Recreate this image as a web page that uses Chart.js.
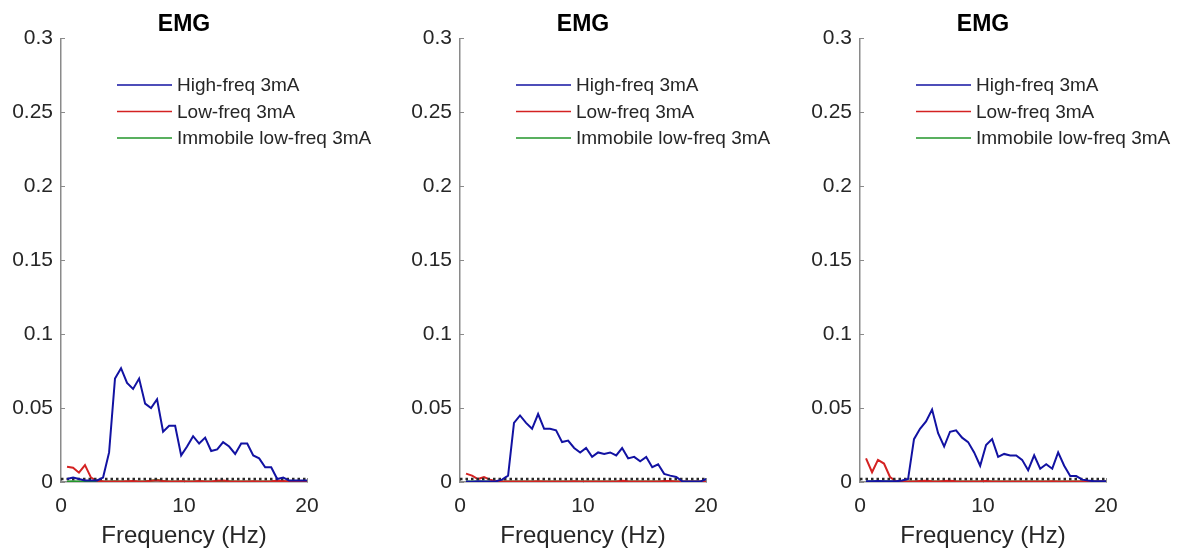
<!DOCTYPE html>
<html>
<head>
<meta charset="utf-8">
<script src="https://cdn.jsdelivr.net/npm/chart.js@4/dist/chart.umd.min.js"></script>
<style>
  body { margin: 0; background: #fff; }
  .wrap { position: relative; width: 1186px; height: 552px; }
  canvas { position: absolute; top: 0; }
</style>
</head>
<body>
<div class="wrap">
  <canvas id="emg1" width="387" height="552" style="left:0px"></canvas>
  <canvas id="emg2" width="387" height="552" style="left:399px"></canvas>
  <canvas id="emg3" width="387" height="552" style="left:799px"></canvas>
</div>
<script>
// frequency bins (Hz)
const freq = [0.49, 0.98, 1.46, 1.95, 2.44, 2.93, 3.42, 3.91, 4.39, 4.88,
    5.37, 5.86, 6.35, 6.84, 7.32, 7.81, 8.30, 8.79, 9.28, 9.77,
    10.25, 10.74, 11.23, 11.72, 12.21, 12.70, 13.18, 13.67, 14.16, 14.65,
    15.14, 15.63, 16.11, 16.60, 17.09, 17.58, 18.07, 18.55, 19.04, 19.53, 20.02];

const seriesNames = ['High-freq 3mA', 'Low-freq 3mA', 'Immobile low-freq 3mA'];
const seriesColors = ['#1212a2', '#d42222', '#22962a'];

// panel 1
const high1 = [0.002, 0.003, 0.002, 0.001, 0.001, 0.001, 0.003, 0.020, 0.070, 0.077,
    0.067, 0.063, 0.070, 0.053, 0.050, 0.056, 0.034, 0.038, 0.038, 0.018,
    0.024, 0.031, 0.026, 0.030, 0.021, 0.022, 0.027, 0.024, 0.019, 0.026,
    0.026, 0.018, 0.016, 0.010, 0.010, 0.002, 0.003, 0.001, 0.001, 0.001, 0.001];
const low1 = [0.0103, 0.0096, 0.0063, 0.0114, 0.003, 0.0008, 0.0005, 0.0003, 0.0004, 0.0003,
    0.0005, 0.0006, 0.0004, 0.0003, 0.0008, 0.0012, 0.0006, 0.0004, 0.0003, 0.0005,
    0.0004, 0.0003, 0.0006, 0.0004, 0.0003, 0.0008, 0.0010, 0.0005, 0.0003, 0.0004,
    0.0003, 0.0005, 0.0004, 0.0003, 0.0005, 0.0008, 0.0006, 0.0004, 0.0003, 0.0004, 0.0003];
const immobile1 = [0.0004, 0.0005, 0.0004, 0.0003, 0.0004, 0.0004, 0.0003, 0.0004, 0.0005, 0.0004,
    0.0004, 0.0003, 0.0004, 0.0005, 0.0008, 0.0015, 0.0006, 0.0004, 0.0004, 0.0003,
    0.0004, 0.0004, 0.0005, 0.0004, 0.0003, 0.0004, 0.0004, 0.0005, 0.0004, 0.0003,
    0.0004, 0.0004, 0.0003, 0.0004, 0.0004, 0.0005, 0.0004, 0.0004, 0.0003, 0.0004, 0.0004];

// panel 2
const high2 = [0.0003, 0.0002, 0.0005, 0.0003, 0.0004, 0.0005, 0.0016, 0.0043, 0.040, 0.045,
    0.040, 0.036, 0.046, 0.036, 0.036, 0.035, 0.027, 0.028, 0.023, 0.020,
    0.023, 0.017, 0.020, 0.019, 0.020, 0.018, 0.023, 0.016, 0.017, 0.014,
    0.017, 0.010, 0.012, 0.0055, 0.0043, 0.0034, 0.0005, 0.0003, 0.0003, 0.0003, 0.002];
const low2 = [0.0057, 0.0043, 0.002, 0.0034, 0.0016, 0.0005, 0.0004, 0.0003, 0.0004, 0.0003,
    0.0004, 0.0003, 0.0005, 0.0004, 0.0003, 0.0004, 0.0003, 0.0004, 0.0005, 0.0003,
    0.0004, 0.0003, 0.0004, 0.0003, 0.0004, 0.0003, 0.0008, 0.0005, 0.0003, 0.0004,
    0.0003, 0.0004, 0.0003, 0.0007, 0.0006, 0.0004, 0.0003, 0.0004, 0.0003, 0.0004, 0.0003];
const immobile2 = [0.0003, 0.0004, 0.0004, 0.0003, 0.0004, 0.0004, 0.0003, 0.0004, 0.0004, 0.0003,
    0.0004, 0.0004, 0.0003, 0.0004, 0.0004, 0.0003, 0.0004, 0.0004, 0.0003, 0.0004,
    0.0004, 0.0003, 0.0004, 0.0004, 0.0003, 0.0004, 0.0004, 0.0003, 0.0004, 0.0004,
    0.0003, 0.0004, 0.0004, 0.0003, 0.0004, 0.0004, 0.0003, 0.0004, 0.0004, 0.0003, 0.0004];

// panel 3
const high3 = [0.0005, 0.0005, 0.0006, 0.0005, 0.0005, 0.0005, 0.001, 0.002, 0.029, 0.036,
    0.041, 0.049, 0.033, 0.024, 0.034, 0.035, 0.030, 0.027, 0.020, 0.011,
    0.025, 0.029, 0.017, 0.019, 0.018, 0.018, 0.015, 0.008, 0.018, 0.009,
    0.012, 0.009, 0.020, 0.011, 0.004, 0.004, 0.0016, 0.001, 0.0005, 0.0005, 0.0005];
const low3 = [0.016, 0.0066, 0.015, 0.0125, 0.0034, 0.0005, 0.0004, 0.0003, 0.0004, 0.0006,
    0.0008, 0.0005, 0.0004, 0.0006, 0.0008, 0.0005, 0.0004, 0.0003, 0.0004, 0.0005,
    0.0007, 0.0004, 0.0003, 0.0004, 0.0003, 0.0004, 0.0003, 0.0004, 0.0003, 0.0004,
    0.0003, 0.0005, 0.0004, 0.0003, 0.0004, 0.0003, 0.0004, 0.0003, 0.0004, 0.0003, 0.0004];
const immobile3 = [0.0004, 0.0003, 0.0004, 0.0004, 0.0003, 0.0004, 0.0004, 0.0003, 0.0004, 0.0004,
    0.0003, 0.0004, 0.0004, 0.0003, 0.0004, 0.0004, 0.0003, 0.0004, 0.0004, 0.0003,
    0.0004, 0.0004, 0.0003, 0.0004, 0.0004, 0.0003, 0.0004, 0.0004, 0.0003, 0.0004,
    0.0004, 0.0003, 0.0004, 0.0004, 0.0003, 0.0004, 0.0004, 0.0003, 0.0004, 0.0004, 0.0003];

// dotted reference level
const refFreq = [0, 20];
const refLevel = [0.002, 0.002];

const yTicks = [0, 0.05, 0.1, 0.15, 0.2, 0.25, 0.3];
const yTickLabels = ['0', '0.05', '0.1', '0.15', '0.2', '0.25', '0.3'];
const xTicks = [0, 10, 20];

const FONT = '"Liberation Sans", Arial, Helvetica, sans-serif';

function pts(xs, ys) {
    return xs.map((x, i) => ({ x: x, y: ys[i] }));
}

// legend drawn inside the plot area (matlab style)
const insideLegend = {
    id: 'insideLegend',
    afterDraw(chart) {
        const ctx = chart.ctx;
        const area = chart.chartArea;
        ctx.save();
        ctx.font = '19px ' + FONT;
        ctx.textBaseline = 'middle';
        ctx.textAlign = 'left';
        seriesNames.forEach((name, i) => {
            const y = area.top + 46.5 + i * 26.5;
            ctx.strokeStyle = seriesColors[i];
            ctx.lineWidth = 1.5;
            ctx.beginPath();
            ctx.moveTo(area.left + 56, y);
            ctx.lineTo(area.left + 111, y);
            ctx.stroke();
            ctx.fillStyle = '#262626';
            ctx.fillText(name, area.left + 116, y + 1);
        });
        ctx.restore();
    }
};

function makePanel(id, high, low, immobile) {
    const ctx = document.getElementById(id).getContext('2d');
    return new Chart(ctx, {
        type: 'line',
        data: {
            datasets: [
                { data: pts(freq, high), borderColor: seriesColors[0], borderWidth: 2 },
                { data: pts(refFreq, refLevel), borderColor: '#2a2a2a', borderWidth: 2.5, borderDash: [2.5, 3] },
                { data: pts(freq, low), borderColor: seriesColors[1], borderWidth: 2 },
                { data: pts(freq, immobile), borderColor: seriesColors[2], borderWidth: 2 }
            ]
        },
        options: {
            responsive: false,
            animation: false,
            devicePixelRatio: 1,
            layout: { padding: { right: 80 } },
            elements: { point: { radius: 0 }, line: { tension: 0 } },
            plugins: {
                legend: { display: false },
                tooltip: { enabled: false },
                title: {
                    display: true,
                    text: 'EMG',
                    fullSize: false,
                    color: '#000',
                    font: { family: FONT, size: 23, weight: 'bold' },
                    padding: { top: 10.5, bottom: 0.5 }
                }
            },
            scales: {
                x: {
                    type: 'linear',
                    min: 0,
                    max: 20,
                    afterFit: s => { s.height = 70; },
                    afterBuildTicks: s => { s.ticks = xTicks.map(v => ({ value: v })); },
                    ticks: { color: '#262626', font: { family: FONT, size: 21 }, padding: 16, maxRotation: 0 },
                    grid: { drawOnChartArea: false, tickLength: -4, color: '#8a8a8a' },
                    border: { color: '#8a8a8a', width: 1.5 },
                    title: {
                        display: true,
                        text: 'Frequency (Hz)',
                        color: '#262626',
                        font: { family: FONT, size: 24 },
                        padding: { top: 0, bottom: 1 }
                    }
                },
                y: {
                    min: 0,
                    max: 0.3,
                    afterFit: s => { s.width = 61; },
                    afterBuildTicks: s => { s.ticks = yTicks.map(v => ({ value: v })); },
                    ticks: {
                        color: '#262626',
                        font: { family: FONT, size: 21 },
                        padding: 12,
                        callback: (v, i) => yTickLabels[i]
                    },
                    grid: { drawOnChartArea: false, tickLength: -4, color: '#8a8a8a' },
                    border: { color: '#8a8a8a', width: 1.5 }
                }
            }
        },
        plugins: [insideLegend]
    });
}

makePanel('emg1', high1, low1, immobile1);
makePanel('emg2', high2, low2, immobile2);
makePanel('emg3', high3, low3, immobile3);
</script>
</body>
</html>
